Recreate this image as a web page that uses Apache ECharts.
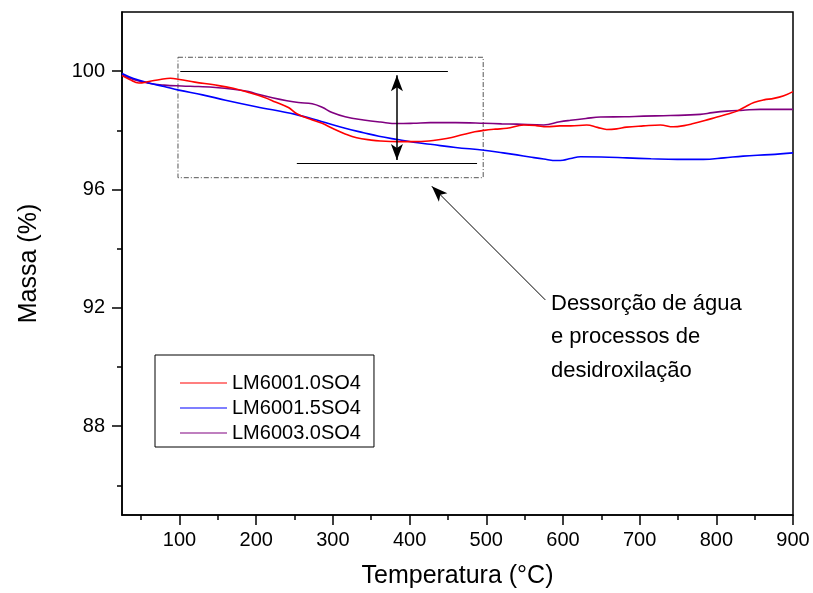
<!DOCTYPE html>
<html>
<head>
<meta charset="utf-8">
<script src="https://cdn.jsdelivr.net/npm/echarts@6/dist/echarts.min.js"></script>
<style>
  html, body { margin: 0; padding: 0; background: #fff; }
  #chart { width: 813px; height: 593px; }
</style>
</head>
<body>
<div id="chart"></div>
<script>
// curvas de TG: [temperatura (°C), massa (%)]
var lm6001_0 = [
  [25, 99.85], [35, 99.72], [47, 99.6], [60, 99.65], [75, 99.72], [88, 99.76], [100, 99.72],
  [120, 99.63], [147, 99.53], [170, 99.42], [190, 99.28], [210, 99.12], [225, 98.96],
  [242, 98.77], [253, 98.56], [270, 98.38], [286, 98.24], [300, 98.06], [316, 97.88],
  [331, 97.75], [350, 97.67], [362, 97.64], [385, 97.62], [405, 97.62], [425, 97.64],
  [440, 97.69], [455, 97.76], [470, 97.86], [485, 97.95], [497, 98.0], [512, 98.04],
  [527, 98.07], [549, 98.18], [565, 98.16], [579, 98.12], [596, 98.15], [610, 98.15],
  [631, 98.18], [645, 98.1], [657, 98.03], [670, 98.05], [683, 98.11], [705, 98.15],
  [727, 98.18], [744, 98.12], [758, 98.16], [770, 98.23], [785, 98.33], [801, 98.45],
  [815, 98.55], [827, 98.65], [838, 98.8], [849, 98.94], [862, 99.03], [875, 99.08],
  [888, 99.17], [900, 99.31]
];
var lm6001_5 = [
  [25, 99.92], [40, 99.75], [60, 99.6], [80, 99.48], [99, 99.36], [130, 99.2], [160, 99.02],
  [200, 98.8], [251, 98.54], [285, 98.3], [316, 98.07], [340, 97.92], [360, 97.8],
  [384, 97.69], [405, 97.6], [427, 97.53], [460, 97.42], [497, 97.33], [522, 97.24],
  [540, 97.17], [557, 97.1], [575, 97.03], [592, 96.98], [600, 96.99], [610, 97.05],
  [623, 97.11], [650, 97.1], [683, 97.07], [715, 97.04], [749, 97.02], [783, 97.02],
  [810, 97.07], [835, 97.13], [870, 97.18], [900, 97.24]
];
var lm6003_0 = [
  [25, 99.87], [40, 99.72], [60, 99.59], [80, 99.53], [103, 99.5], [125, 99.48], [147, 99.45],
  [170, 99.39], [190, 99.31], [205, 99.2], [221, 99.1], [240, 99.0], [255, 98.94],
  [273, 98.9], [286, 98.78], [299, 98.6], [316, 98.46], [340, 98.35], [362, 98.28],
  [384, 98.23], [405, 98.24], [427, 98.26], [460, 98.26], [497, 98.24], [520, 98.22],
  [540, 98.21], [575, 98.18], [596, 98.29], [610, 98.34], [630, 98.4], [649, 98.45],
  [680, 98.46], [705, 98.48], [740, 98.5], [779, 98.54], [795, 98.6], [814, 98.65],
  [835, 98.68], [857, 98.71], [900, 98.71]
];

var seriesNames = ['LM6001.0SO4', 'LM6001.5SO4', 'LM6003.0SO4'];
var seriesColors = ['#ff0000', '#0000ff', '#800080'];

var xTicks = [100, 200, 300, 400, 500, 600, 700, 800, 900];
var xMinorTicks = [50, 150, 250, 350, 450, 550, 650, 750, 850];
var yTicks = [88, 92, 96, 100];
var yMinorTicks = [86, 90, 94, 98];

// anotacao: caixa, linhas de referencia e setas (coordenadas de dados)
var boxCorners = [[98, 100.47], [496, 96.4]];
var topRef = [[101, 100], [450, 100]];
var bottomRef = [[253, 96.9], [488, 96.9]];
var dropArrow = [[383.5, 99.86], [383.5, 97.0]];
var pointerArrow = [[577, 92.27], [429, 96.11]];
var noteText = 'Dessorção de água\ne processos de\ndesidroxilação';

var font = 'Liberation Sans, Arial, Helvetica, sans-serif';
var chart = echarts.init(document.getElementById('chart'));

var lineSeries = [lm6001_0, lm6001_5, lm6003_0].map(function (d, i) {
  return {
    name: seriesNames[i],
    type: 'line',
    data: d,
    xAxisIndex: 0,
    yAxisIndex: 0,
    smooth: 0.4,
    symbol: 'none',
    color: seriesColors[i],
    lineStyle: { width: 1.6, color: seriesColors[i] },
    z: 3 - i
  };
});

function seg(p, style, symbols, sizes) {
  return [
    { coord: p[0], symbol: symbols[0], symbolSize: sizes, lineStyle: style },
    { coord: p[1], symbol: symbols[1], symbolSize: sizes }
  ];
}

lineSeries.push({
  name: 'anotacao',
  type: 'line',
  data: [],
  xAxisIndex: 0,
  yAxisIndex: 0,
  silent: true,
  markArea: {
    silent: true,
    itemStyle: {
      color: 'rgba(0,0,0,0)',
      borderColor: '#555',
      borderWidth: 1,
      borderType: [5, 2, 1, 2]
    },
    data: [[{ coord: boxCorners[0] }, { coord: boxCorners[1] }]]
  },
  markLine: {
    silent: true,
    label: { show: false },
    emphasis: { disabled: true },
    data: [
      seg(topRef, { color: '#000', width: 1, type: 'solid' }, ['none', 'none'], 8),
      seg(bottomRef, { color: '#000', width: 1, type: 'solid' }, ['none', 'none'], 8),
      seg(dropArrow, { color: '#000', width: 1.5, type: 'solid' }, ['arrow', 'arrow'], [9, 16]),
      seg(pointerArrow, { color: '#000', width: 1, type: 'solid' }, ['none', 'arrow'], [9, 16])
    ]
  }
});

var option = {
  animation: false,
  backgroundColor: '#fff',
  textStyle: { fontFamily: font },
  grid: {
    left: 122,
    right: 20,
    top: 12,
    bottom: 78,
    show: true,
    borderColor: '#000',
    borderWidth: 1.5,
    backgroundColor: 'rgba(0,0,0,0)',
    containLabel: false,
    outerBoundsMode: 'none'
  },
  legend: {
    data: seriesNames,
    orient: 'vertical',
    left: 155,
    top: 355,
    width: 226,
    padding: [18, 13, 4, 25],
    itemGap: 5,
    itemWidth: 47,
    itemHeight: 14,
    borderColor: '#000',
    borderWidth: 1,
    backgroundColor: '#fff',
    icon: 'path://M0,0 L47,0 L47,1.2 L0,1.2 Z',
    textStyle: { fontFamily: font, fontSize: 20, color: '#000', lineHeight: 20, padding: [0, 0, 0, 0] },
    selectedMode: false
  },
  xAxis: [
    {
      type: 'value',
      min: 25,
      max: 900,
      name: 'Temperatura (°C)',
      nameLocation: 'middle',
      nameGap: 49,
      nameTextStyle: { fontFamily: font, fontSize: 25, color: '#000' },
      axisLine: { show: true, onZero: false, lineStyle: { color: '#000', width: 1.5 } },
      axisTick: { show: true, inside: false, length: 10, customValues: xTicks, lineStyle: { color: '#000', width: 1.5 } },
      axisLabel: { customValues: xTicks, margin: 15, fontFamily: font, fontSize: 20, color: '#000' },
      splitLine: { show: false }
    },
    {
      type: 'value',
      min: 25,
      max: 900,
      position: 'bottom',
      axisLine: { show: false },
      axisTick: { show: true, inside: false, length: 5, customValues: xMinorTicks, lineStyle: { color: '#000', width: 1.5 } },
      axisLabel: { show: false },
      splitLine: { show: false }
    }
  ],
  yAxis: [
    {
      type: 'value',
      min: 85,
      max: 102,
      name: 'Massa (%)',
      nameLocation: 'middle',
      nameGap: 80,
      nameTextStyle: { fontFamily: font, fontSize: 25, color: '#000' },
      axisLine: { show: true, onZero: false, lineStyle: { color: '#000', width: 1.5 } },
      axisTick: { show: true, inside: false, length: 10, customValues: yTicks, lineStyle: { color: '#000', width: 1.5 } },
      axisLabel: { customValues: yTicks, margin: 17, fontFamily: font, fontSize: 20, color: '#000' },
      splitLine: { show: false }
    },
    {
      type: 'value',
      min: 85,
      max: 102,
      position: 'left',
      axisLine: { show: false },
      axisTick: { show: true, inside: false, length: 5, customValues: yMinorTicks, lineStyle: { color: '#000', width: 1.5 } },
      axisLabel: { show: false },
      splitLine: { show: false }
    }
  ],
  graphic: [
    {
      type: 'text',
      left: 551,
      top: 287,
      style: {
        text: noteText,
        fontFamily: font,
        fontSize: 22,
        lineHeight: 33.5,
        fill: '#000'
      }
    }
  ],
  series: lineSeries
};

chart.setOption(option);
</script>
</body>
</html>
